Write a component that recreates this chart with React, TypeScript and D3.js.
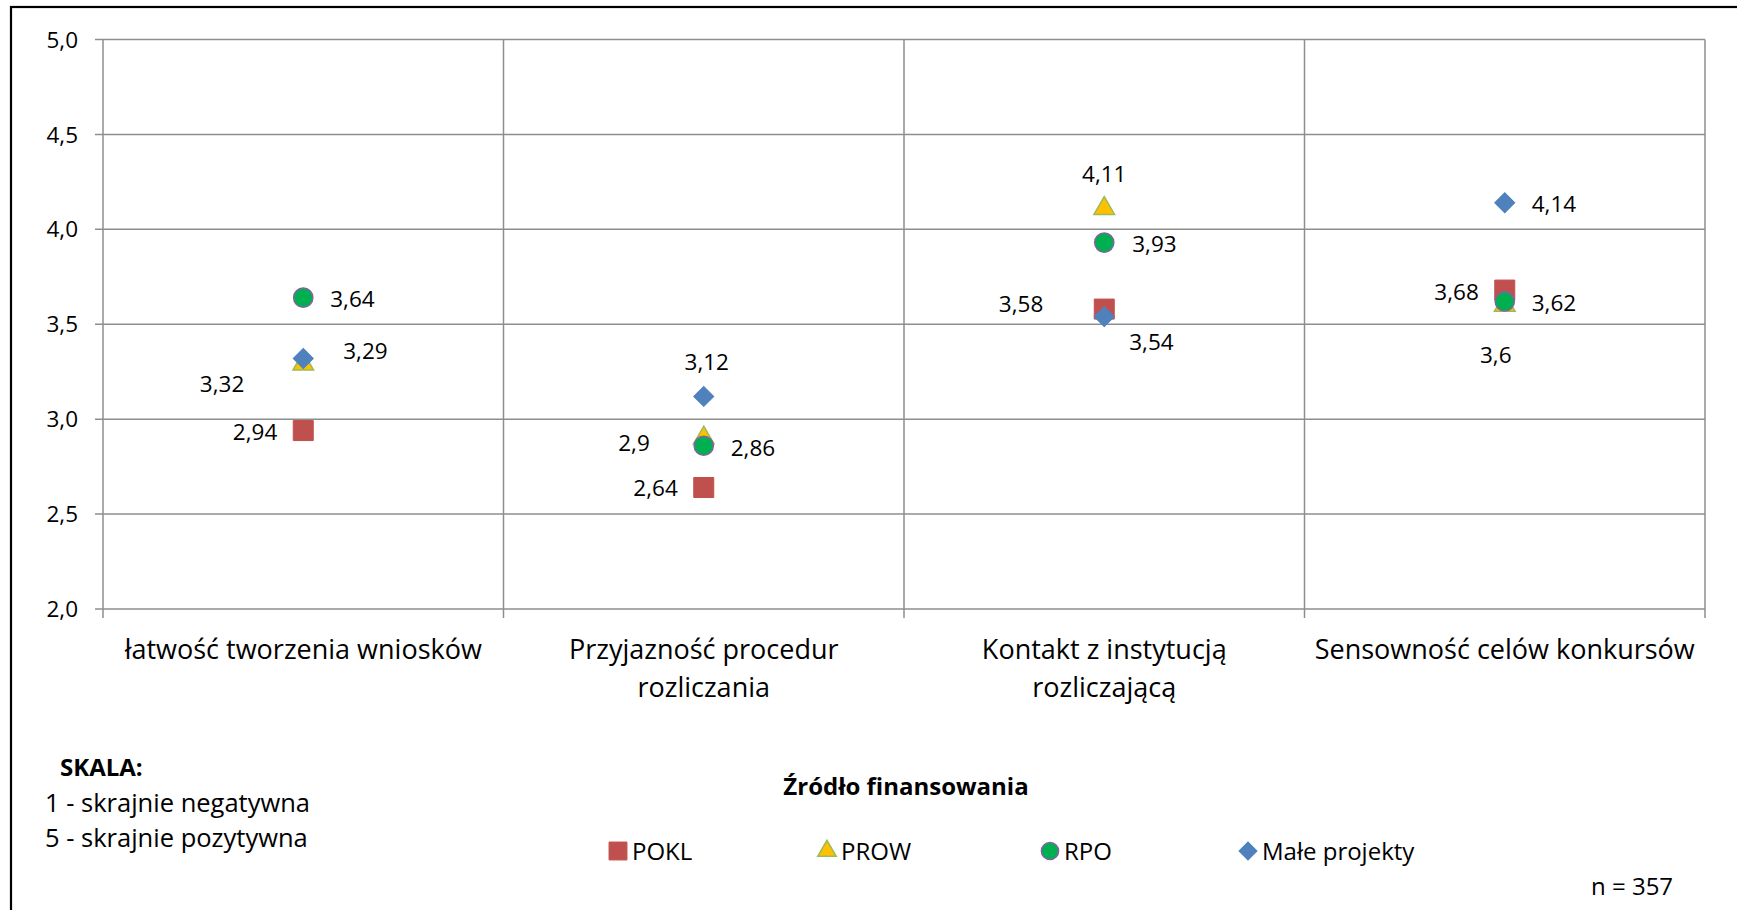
import * as d3 from "d3";

const categories = [
    "łatwość tworzenia wniosków",
    "Przyjazność procedur rozliczania",
    "Kontakt z instytucją rozliczającą",
    "Sensowność celów konkursów",
];
const categoryLines = [
    ["łatwość tworzenia wniosków"],
    ["Przyjazność procedur", "rozliczania"],
    ["Kontakt z instytucją", "rozliczającą"],
    ["Sensowność celów konkursów"],
];
const seriesNames = ["POKL", "PROW", "RPO", "Małe projekty"];
const pokl = [2.94, 2.64, 3.58, 3.68];
const prow = [3.29, 2.9, 4.11, 3.6];
const rpo = [3.64, 2.86, 3.93, 3.62];
const maleProjekty = [3.32, 3.12, 3.54, 4.14];
const yTicks = [2.0, 2.5, 3.0, 3.5, 4.0, 4.5, 5.0];
const scaleLines = ["1 - skrajnie negatywna", "5 - skrajnie pozytywna"];

// label nudges, [dx, dy, anchor] per series per category (Excel placed them by hand)
const labelPlacement: [number, number, string][][] = [
    [[-26, 1, "end"], [-26, 0, "end"], [-61, -5, "end"], [-26, 2, "end"]],
    [[40, -13, "start"], [-54, 5, "end"], [0, -35, "middle"], [-9, 50, "middle"]],
    [[27, 1, "start"], [27, 2, "start"], [28, 1, "start"], [27, 1, "start"]],
    [[-59, 25, "end"], [3, -34, "middle"], [25, 25, "start"], [27, 1, "start"]],
];
const legendX = [618, 827, 1050, 1248];

const width = 1737;
const height = 910;
const marginLeft = 103;
const marginRight = 32;
const marginTop = 39.5;
const plotBottom = 609;
const font = "'Open Sans', Lato, sans-serif";

const fmt = d3.formatLocale({ decimal: ",", thousands: " ", grouping: [3], currency: ["", ""] });
const tickFmt = fmt.format(".1f");
const valueFmt = (v: number) => String(v).replace(".", ",");

const styles = [
    { symbol: d3.symbolSquare, size: 400, rotate: 0, fill: "#C0504D", stroke: "#C0504D", sw: 1 },
    { symbol: d3.symbolTriangle, size: 185, rotate: 0, fill: "#FFC000", stroke: "#9BBB59", sw: 1.5 },
    { symbol: d3.symbolCircle, size: 290, rotate: 0, fill: "#00B050", stroke: "#8064A2", sw: 1.5 },
    { symbol: d3.symbolSquare, size: 200, rotate: 45, fill: "#4F81BD", stroke: "#4F81BD", sw: 1 },
];

const App = () => {
    const series = [pokl, prow, rpo, maleProjekty];

    const x = d3.scaleBand().domain(categories).range([marginLeft, width - marginRight]);
    const y = d3.scaleLinear().domain([2, 5]).range([plotBottom, marginTop]);
    const boundaries = categories.map(c => x(c) as number).concat([width - marginRight]);
    const cx = (c: string) => (x(c) as number) + x.bandwidth() / 2;

    const symbolPath = (i: number, scale = 1) => d3.symbol().type(styles[i].symbol).size(styles[i].size * scale)() as string;

    return (
        <svg width={width} height={height} style={{ position: "absolute", left: 0, top: 0, background: "#fff" }} fontFamily={font}>
            <rect x={11} y={7} width={width + 20} height={height + 20} fill="#fff" stroke="#000" strokeWidth={2.2} />

            {/* grid + axes */}
            <g stroke="#8e8e8e" strokeWidth={1.5}>
                {yTicks.map((t, i) => (
                    <line key={i} x1={marginLeft - 8} x2={width - marginRight} y1={y(t)} y2={y(t)} />
                ))}
                {boundaries.map((b, i) => (
                    <line key={i} x1={b} x2={b} y1={marginTop} y2={plotBottom + 9} />
                ))}
            </g>
            <g fontSize={22.5} fill="#000" textAnchor="end">
                {yTicks.map((t, i) => (
                    <text key={i} x={marginLeft - 25} y={y(t)} dy="0.36em">{tickFmt(t)}</text>
                ))}
            </g>
            <g fontSize={27} fill="#000" textAnchor="middle">
                {categories.map((c, i) => (
                    <text key={i} x={cx(c)} y={659}>
                        {categoryLines[i].map((l, j) => (
                            <tspan key={j} x={cx(c)} dy={j === 0 ? 0 : 38}>{l}</tspan>
                        ))}
                    </text>
                ))}
            </g>

            {/* markers */}
            {series.map((s, si) => (
                <g key={si}>
                    {s.map((v, ci) => (
                        <path
                            key={ci}
                            d={symbolPath(si)}
                            transform={`translate(${cx(categories[ci])},${y(v)}) rotate(${styles[si].rotate})`}
                            fill={styles[si].fill}
                            stroke={styles[si].stroke}
                            strokeWidth={styles[si].sw}
                        />
                    ))}
                </g>
            ))}

            {/* data labels */}
            <g fontSize={22.5} fill="#000">
                {series.map((s, si) => s.map((v, ci) => {
                    const [dx, dy, anchor] = labelPlacement[si][ci];
                    return (
                        <text key={`${si}-${ci}`} x={cx(categories[ci]) + dx} y={y(v) + dy} dy="0.36em" textAnchor={anchor}>
                            {valueFmt(v)}
                        </text>
                    );
                }))}
            </g>

            {/* scale note */}
            <text x={60} y={776} fontSize={24} fontWeight="bold" fill="#000">SKALA:</text>
            {scaleLines.map((l, i) => (
                <text key={i} x={45} y={812 + i * 35} fontSize={25.5} fill="#000">{l}</text>
            ))}

            {/* legend */}
            <text x={906} y={795} fontSize={24} fontWeight="bold" textAnchor="middle" fill="#000">Źródło finansowania</text>
            {seriesNames.map((n, i) => (
                <g key={i} transform={`translate(${legendX[i]},851)`}>
                    <path
                        d={symbolPath(i, 0.8)}
                        transform={`rotate(${styles[i].rotate})`}
                        fill={styles[i].fill}
                        stroke={styles[i].stroke}
                        strokeWidth={styles[i].sw}
                    />
                    <text x={14} y={9} fontSize={24} fill="#000">{n}</text>
                </g>
            ))}
            <text x={1591} y={895} fontSize={24} fill="#000">n = 357</text>
        </svg>
    );
};

export default App;
